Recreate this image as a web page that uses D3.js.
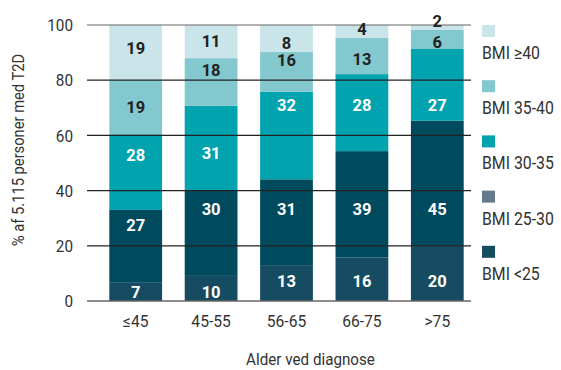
<!DOCTYPE html>
<html><head><meta charset="utf-8">
<script src="https://cdn.jsdelivr.net/npm/d3@7"></script>
<style>
html,body{margin:0;padding:0;background:#fff;}
svg{display:block;font-family:Roboto,"Liberation Sans",sans-serif;}
</style></head>
<body><svg id="c" width="561" height="370"></svg>
<script>
const categories = ["≤45", "45-55", "56-65", "66-75", ">75"];
const seriesNames = ["BMI <25", "BMI 25-30", "BMI 30-35", "BMI 35-40", "BMI ≥40"];
// printed values (labels)
const bmiUnder25 = [7, 10, 13, 16, 20];
const bmi25to30 = [27, 30, 31, 39, 45];
const bmi30to35 = [28, 31, 32, 28, 27];
const bmi35to40 = [19, 18, 16, 13, 6];
const bmiOver40 = [19, 11, 8, 4, 2];
// segment heights as drawn in the picture (% units, estimated from the bars)
const drawnUnder25 = [6.6, 9.1, 13.0, 15.8, 19.9];
const drawn25to30 = [26.4, 30.9, 31.1, 38.5, 45.4];
const drawn30to35 = [27.4, 30.7, 31.7, 27.9, 26.0];
const drawn35to40 = [19.6, 17.3, 14.4, 13.2, 6.9];
const drawnOver40 = [20.0, 12.0, 9.8, 4.6, 1.8];
const yTicks = [0, 20, 40, 60, 80, 100];
// where the value labels sit, in % units
const lblUnder25 = [3.4, 3.4, 7.2, 7.2, 7.2];
const lbl25to30 = [27.5, 33.3, 33.3, 33.3, 33.3];
const lbl30to35 = [52.9, 53.6, 71, 71, 71];
const lbl35to40 = [70.3, 83.7, 87.3, 87.6, 94];
const lblOver40 = [91.7, 94.2, 93.6, 98.4, 101.6];

const printed = [bmiUnder25, bmi25to30, bmi30to35, bmi35to40, bmiOver40];
const drawn = [drawnUnder25, drawn25to30, drawn30to35, drawn35to40, drawnOver40];
const labelAt = [lblUnder25, lbl25to30, lbl30to35, lbl35to40, lblOver40];
const barColors = ["#164c62", "#004a5e", "#00a3ae", "#84c8cf", "#cae5e9"];
const legendColors = ["#164c62", "#647a8c", "#00a3ae", "#84c8cf", "#cae5e9"];
const textColors = ["#ffffff", "#ffffff", "#ffffff", "#222222", "#222222"];

const svg = d3.select("#c");
const x = d3.scaleBand().domain(categories).range([98, 475]).paddingInner(0.3).paddingOuter(0.15);
const y = d3.scaleLinear().domain([0, 100]).range([301, 25]);
const gridX0 = 87, gridX1 = 471;

const rows = categories.map((c, i) => {
  const r = {cat: c, idx: i};
  seriesNames.forEach((s, j) => r[s] = drawn[j][i]);
  return r;
});
const stacked = d3.stack().keys(seriesNames)(rows);

const g = svg.append("g");
stacked.forEach((layer, j) => {
  g.selectAll(null).data(layer).join("rect")
    .attr("x", d => x(d.data.cat))
    .attr("width", x.bandwidth())
    .attr("y", d => y(d[1]))
    .attr("height", d => y(d[0]) - y(d[1]))
    .attr("fill", barColors[j]);
});

// grid lines on top of bars
svg.append("g").selectAll("line").data(yTicks).join("line")
  .attr("x1", gridX0).attr("x2", gridX1)
  .attr("y1", d => y(d)).attr("y2", d => y(d))
  .attr("stroke", d => (d === 0 || d === 100) ? "#666" : "#222")
  .attr("stroke-width", d => d === 0 ? 1.5 : 1.2);

// value labels
stacked.forEach((layer, j) => {
  svg.append("g").selectAll("text").data(layer).join("text")
    .attr("x", d => x(d.data.cat) + x.bandwidth() / 2)
    .attr("y", d => y(labelAt[j][d.data.idx]))
    .attr("dy", "0.36em")
    .attr("text-anchor", "middle")
    .attr("font-size", 16.5)
    .attr("font-weight", 700)
    .attr("fill", textColors[j])
    .text(d => printed[j][d.data.idx]);
});

// y tick labels (condensed look)
svg.append("g").selectAll("text").data(yTicks).join("text")
  .attr("transform", d => `translate(73,${y(d)}) scale(0.9,1)`)
  .attr("dy", "0.36em")
  .attr("text-anchor", "end").attr("font-size", 17).attr("font-weight", 400)
  .attr("fill", "#333").text(d => d);

// x tick labels
svg.append("g").selectAll("text").data(categories).join("text")
  .attr("transform", d => `translate(${x(d) + x.bandwidth() / 2},327) scale(0.92,1)`)
  .attr("text-anchor", "middle").attr("font-size", 17).attr("font-weight", 400)
  .attr("fill", "#333").text(d => d);

// axis titles
svg.append("text").attr("transform", "translate(310.5,365) scale(0.95,1)").attr("text-anchor", "middle")
  .attr("font-size", 16).attr("font-weight", 400).attr("fill", "#333").text("Alder ved diagnose");
svg.append("text").attr("transform", "translate(24,150) rotate(-90) scale(0.92,1)").attr("text-anchor", "middle")
  .attr("font-size", 16).attr("font-weight", 400).attr("fill", "#333").text("% af 5.115 personer med T2D");

// legend (top to bottom: ≥40 ... <25)
const legOrder = d3.range(seriesNames.length).reverse();
const leg = svg.append("g").selectAll("g").data(legOrder).join("g")
  .attr("transform", (d, k) => `translate(482,${y(yTicks[yTicks.length - 1 - k])})`);
leg.append("rect").attr("width", 13).attr("height", 12).attr("fill", d => legendColors[d]);
leg.append("text").attr("transform", "translate(0,34) scale(0.88,1)")
  .attr("font-size", 18).attr("font-weight", 400)
  .attr("fill", "#333").text(d => seriesNames[d]);
</script></body></html>
